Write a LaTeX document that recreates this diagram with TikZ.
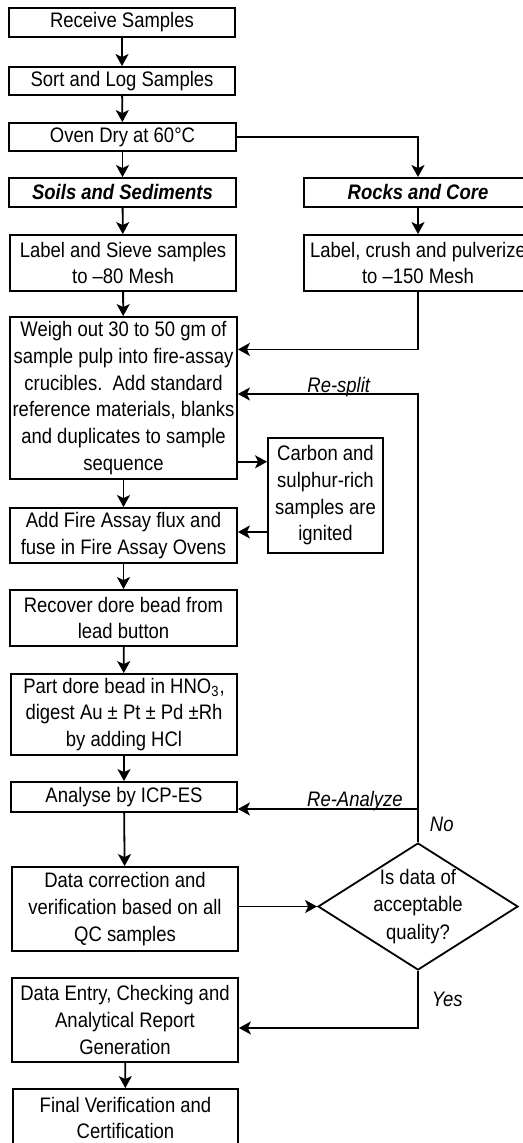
\documentclass[tikz,border=0pt]{standalone}
\usepackage{fontspec}
\setmainfont{Liberation Sans}[FakeStretch=0.88]
\usetikzlibrary{arrows.meta,positioning,shapes.geometric,calc}
\tikzset{
    stepbox/.style={
        draw,line width=0.9pt,inner sep=0pt,align=center,
        minimum width=#1,font=\fontsize{10.5}{13.35}\selectfont
    },
    stepbox/.default=113pt,
    headbox/.style={
        stepbox=#1,font=\fontsize{10.5}{13.35}\selectfont\bfseries\itshape
    },
    headbox/.default=113pt,
    decision/.style={
        draw,line width=0.9pt,diamond,aspect=1.57,inner sep=-4pt,
        minimum width=100pt,minimum height=63.5pt,align=center,
        font=\fontsize{10.5}{13.8}\selectfont
    },
    lbl/.style={font=\fontsize{10.5}{12}\selectfont\itshape,inner sep=0.5pt},
    arrow/.style={
        -{Stealth[length=6pt,width=6.5pt,inset=1.5pt]},line width=0.9pt
    },
    line/.style={line width=0.9pt}
}
\begin{document}
\begin{tikzpicture}[x=0.5pt,y=-0.5pt]

\useasboundingbox (0,0) rectangle (523,1143);

\node[stepbox,minimum height=14.5pt] (recv) at (122,22.5) {Receive Samples};
\node[stepbox,minimum height=14pt] (sort) at (122,81) {Sort and Log Samples};
\node[stepbox=113.5pt,minimum height=14pt] (oven) at (122.5,137) {Oven Dry at 60°C};
\node[headbox=113.5pt,minimum height=14.5pt] (soils) at (122.5,192.5) {Soils and Sediments};
\node[headbox=114pt,minimum height=14.5pt] (rocks) at (418,192.5) {Rocks and Core};
\node[stepbox,minimum height=28pt] (sieve) at (123,263)
{Label and Sieve samples\\to –80 Mesh};
\node[stepbox=114pt,minimum height=28pt] (crush) at (418,263)
{Label, crush and pulverize\\to –150 Mesh};

\node[stepbox=113.5pt,minimum height=81pt] (weigh) at (123.5,398)
{Weigh out 30 to 50 gm of\\sample pulp into fire-assay\\crucibles.\ \ Add standard\\
reference materials, blanks\\and duplicates to sample\\sequence};
\node[stepbox=57.5pt,minimum height=57.5pt] (carbon) at (325.5,495.5)
{Carbon and\\sulphur-rich\\samples are\\ignited};
\node[stepbox=113.5pt,minimum height=27.5pt] (flux) at (123.5,535.5)
{Add Fire Assay flux and\\fuse in Fire Assay Ovens};
\node[stepbox=113.5pt,minimum height=28pt] (recover) at (123.5,618)
{Recover dore bead from\\lead button};
\node[stepbox,minimum height=40.5pt] (part) at (124,714.5)
{Part dore bead in HNO\textsubscript{3},\\digest Au ± Pt ± Pd ±Rh\\by adding HCl};
\node[stepbox,minimum height=15pt] (analyse) at (124,797) {Analyse by ICP-ES};
\node[stepbox,minimum height=42pt] (datacorr) at (125,909)
{Data correction and\\verification based on all\\QC samples};
\node[decision] (check) at (418,906.5) {Is data of\\acceptable\\quality?};
\node[stepbox,minimum height=42pt] (entry) at (125,1020)
{Data Entry, Checking and\\Analytical Report\\Generation};
\node[stepbox=112.5pt,minimum height=29pt] (final) at (125.5,1118)
{Final Verification and\\Certification};

\draw[arrow] (recv) -- (sort);
\draw[arrow] (sort) -- (oven);
\draw[arrow] (oven) -- (soils);
\draw[arrow] (oven.east) -| (rocks.north);
\draw[arrow] (soils) -- (sieve);
\draw[arrow] (rocks) -- (crush);
\draw[arrow] (sieve) -- (weigh);
\draw[arrow] (crush.south) |- (weigh.23);
\draw[arrow] (check.north) |- node[lbl,pos=0.02,right=5pt]{No}
node[lbl,pos=0.72,anchor=base,yshift=1pt]{Re-split} (weigh.2);
\draw[arrow] (check.north |- analyse.-6) --
node[lbl,pos=0.35,anchor=base,yshift=1pt]{Re-Analyze} (analyse.-6);
\draw[arrow] (carbon.150 -| weigh.east) -- (carbon.150);
\draw[arrow] (carbon.212) -- (carbon.212 -| flux.east);
\draw[arrow] (weigh) -- (flux);
\draw[arrow] (flux) -- (recover);
\draw[arrow] (recover) -- (part);
\draw[arrow] (part) -- (analyse);
\draw[arrow] (analyse) -- (datacorr);
\draw[arrow] (datacorr.east |- check.west) -- (check.west);
\draw[arrow] (check.south) |- node[lbl,pos=0.25,right=6pt]{Yes} (entry.-4);
\draw[arrow] (entry) -- (final);

\end{tikzpicture}
\end{document}
